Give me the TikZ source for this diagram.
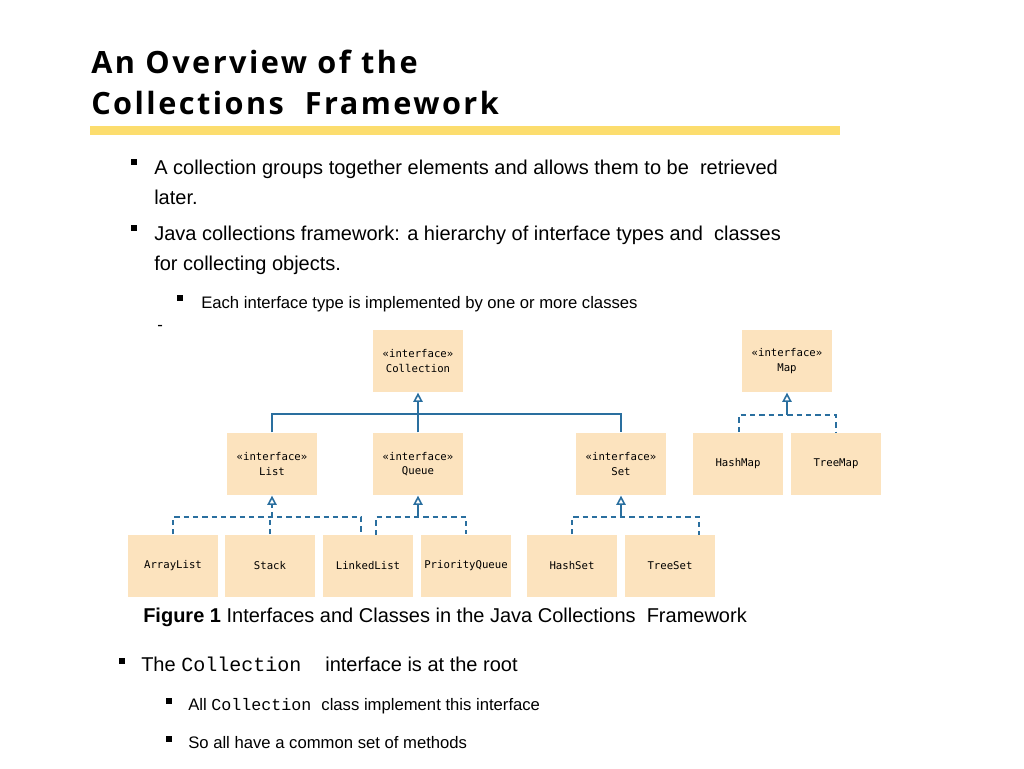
\documentclass[tikz,border=0pt]{standalone}
\usepackage{fontspec}
\setmainfont{Liberation Sans}
\newfontfamily\titlefont[LetterSpace=8]{Open Sans}
\newfontfamily\boxfont{DejaVu Sans Mono}
\newfontfamily\codefont{Liberation Mono}
\usetikzlibrary{arrows.meta}
\definecolor{boxc}{HTML}{FCE3BE}
\definecolor{linec}{HTML}{2A6F9F}
\definecolor{barc}{HTML}{FCDD6E}
\begin{document}
\begin{tikzpicture}[x=0.75pt,y=-0.75pt,
 bx/.style={fill=boxc,minimum width=68pt,minimum height=47pt,inner sep=0pt,align=center,font=\boxfont\fontsize{8}{11}\selectfont},
 tx/.style={anchor=base west,inner sep=0pt,font=\fontsize{15}{18}\selectfont},
 sx/.style={anchor=base west,inner sep=0pt,font=\fontsize{12.5}{15}\selectfont},
 bul/.style={fill=black,minimum size=5pt,inner sep=0pt},
 sbul/.style={fill=black,minimum size=4pt,inner sep=0pt},
 sol/.style={draw=linec,line width=1.2pt},
 dsh/.style={draw=linec,line width=1.2pt,dash pattern=on 4pt off 3pt},
 tri/.style={-{Triangle[open,length=7pt,width=7pt]},line width=1.2pt,draw=linec}]
\useasboundingbox (0,0) rectangle (1024,768);
% title
\node[anchor=base west,inner sep=0pt,font=\titlefont\bfseries\fontsize{23}{28}\selectfont] (t1) at (91,73) {An Overview of the};
\node[anchor=base west,inner sep=0pt,font=\titlefont\bfseries\fontsize{23}{28}\selectfont] (t2) at (91,114) {Collections\ \ Framework};
\fill[barc] (90,126) rectangle (840,135);
% bullets
\node[bul] (b1) at (134,162) {};
\node[tx] (l1) at (154,174) {A collection groups together elements and allows them to be\ \ retrieved};
\node[tx] (l1b) at (154,204) {later.};
\node[bul] (b2) at (134,228) {};
\node[tx] (l2) at (154,240) {Java collections framework: a hierarchy of interface types and\ \ classes};
\node[tx] (l2b) at (154,270) {for collecting objects.};
\node[sbul] (b3) at (180,298) {};
\node[sx] (l3) at (201,308) {Each interface type is implemented by one or more classes};
\node[sx] (dash) at (157,330) {-};
% boxes
\node[bx] (coll) at (418,361) {«interface»\\Collection};
\node[bx] (map) at (787,361) {«interface»\\Map};
\node[bx] (list) at (272,464) {«interface»\\List};
\node[bx] (queue) at (418,464) {«interface»\\Queue};
\node[bx] (set) at (621,464) {«interface»\\Set};
\node[bx] (hmap) at (738,464) {HashMap};
\node[bx] (tmap) at (836,464) {TreeMap};
\node[bx] (al) at (173,566) {ArrayList};
\node[bx] (st) at (270,566) {Stack};
\node[bx] (ll) at (368,566) {LinkedList};
\node[bx] (pq) at (466,566) {PriorityQueue};
\node[bx] (hs) at (572,566) {HashSet};
\node[bx] (ts) at (670,566) {TreeSet};
% solid lines
\draw[sol] (list.north) |- (set.north |- 0,414) -- (set.north);
\draw[tri] (queue.north) -- (coll.south);
% List dashed
\draw[dsh] (al.north) |- (361,517) -- (361,535);
\draw[dsh] (st.north) -- (st.north |- 0,517);
\draw[tri,dash pattern=on 4pt off 3pt] (272,517) -- (list.south);
% Queue dashed
\draw[dsh] (376,535) |- (466,517) -- (pq.north);
\draw[tri] (418,517) -- (queue.south);
% Set dashed
\draw[dsh] (hs.north) |- (699,517) -- (699,535);
\draw[tri] (621,517) -- (set.south);
% Map dashed
\draw[dsh] (739,432) |- (836,415) -- (tmap.north);
\draw[tri] (787,415) -- (map.south);
% caption
\node[tx] (cap) at (143,622) {\textbf{Figure 1} Interfaces and Classes in the Java Collections\ \ Framework};
\node[bul] (b4) at (122,661) {};
\node[tx] (l4) at (141,671) {The \codefont Collection\ \ \rmfamily interface is at the root};
\node[sbul] (b5) at (169,701) {};
\node[sx] (l5) at (188,710) {All \codefont Collection\ \rmfamily class implement this interface};
\node[sbul] (b6) at (169,739) {};
\node[sx] (l6) at (188,748) {So all have a common set of methods};
\end{tikzpicture}
\end{document}
